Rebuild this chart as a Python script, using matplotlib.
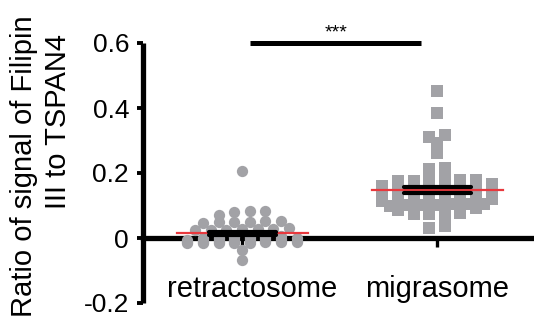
import numpy as np
import matplotlib
matplotlib.use("Agg")
import matplotlib.pyplot as plt
from matplotlib.transforms import ScaledTranslation

plt.rcParams["font.family"] = ["Liberation Sans", "DejaVu Sans"]

# values (ratio Filipin III / TSPAN4)
groups = ["retractosome", "migrasome"]

retractosome = [
    0.206,
    0.083, 0.082, 0.080, 0.072,
    0.052, 0.051, 0.050, 0.049, 0.048, 0.047,
    0.030, 0.029, 0.028, 0.027, 0.026, 0.025, 0.024,
    0.005, 0.004, 0.003, 0.002, 0.001, 0.000, -0.001,
    -0.002, -0.003, -0.004, -0.005, -0.005, -0.006, -0.007,
    -0.008, -0.009, -0.009, -0.010, -0.010, -0.011, -0.011, -0.012,
    -0.012, -0.013, -0.013, -0.014, -0.014, -0.015, -0.015, -0.016,
    -0.037, -0.068,
]

migrasome = [
    0.453, 0.386, 0.317, 0.312, 0.291, 0.262, 0.216, 0.211,
    0.180, 0.179, 0.178, 0.177, 0.176, 0.175,
    0.166, 0.165, 0.164, 0.163, 0.162, 0.161, 0.160, 0.159,
    0.151, 0.150, 0.149, 0.148, 0.147, 0.146, 0.145, 0.144,
    0.136, 0.135, 0.134, 0.133, 0.132, 0.131, 0.130, 0.129,
    0.121, 0.120, 0.119, 0.118, 0.117, 0.116, 0.115, 0.114,
    0.106, 0.105, 0.104, 0.103, 0.102, 0.101, 0.100,
    0.091, 0.090, 0.089, 0.088, 0.087, 0.086,
    0.076, 0.075, 0.074, 0.073,
    0.037, 0.030,
]

yticks = [-0.2, 0, 0.2, 0.4, 0.6]
ytick_labels = ["-0.2", "0", "0.2", "0.4", "0.6"]

GRAY = "#a2a2a6"
RED = "#e8383d"


def swarm(values, bin_h, cap, dx):
    # prism-like scatter: near-equal values share a row, spread sideways
    vals = np.sort(np.asarray(values, dtype=float))
    offs = np.zeros(len(vals))
    i = 0
    while i < len(vals):
        j = i + 1
        while j < len(vals) and j - i < cap and vals[j] - vals[i] < bin_h:
            j += 1
        k = j - i
        offs[i:j] = (np.arange(k) - (k - 1) / 2) * dx
        i = j
    return vals, offs


fig = plt.figure(figsize=(5.34, 3.22), dpi=100)
ax = fig.add_axes([143 / 534, 19 / 322, 391 / 534, 260 / 322])

for i, (vals, mk) in enumerate(zip([retractosome, migrasome], ["o", "s"])):
    y, off = swarm(vals, 0.012, 8, 0.08)
    ax.scatter(i + off, y, s=66, marker=mk, color=GRAY, linewidths=0,
               zorder=3, clip_on=False)
    mean = y.mean()
    sem = y.std(ddof=1) / np.sqrt(len(y))
    ax.plot([i - 0.336, i + 0.336], [mean, mean], color=RED, lw=1.6, zorder=4)
    for v in (mean - sem, mean + sem):
        ax.plot([i - 0.172, i + 0.172], [v, v], color="black", lw=3.0,
                solid_capstyle="round", zorder=5)

# significance bar
ax.plot([0.04, 0.92], [0.6, 0.6], color="black", lw=3.6, clip_on=False,
        solid_capstyle="butt")
ax.text(0.48, 0.606, "***", ha="center", va="bottom", fontsize=14)

ax.set_xlim(-0.508, 1.497)
ax.set_ylim(-0.2, 0.6)

for s in ("top", "right"):
    ax.spines[s].set_visible(False)
ax.spines["bottom"].set_position(("data", 0))
ax.spines["left"].set_bounds(-0.2, 0.6)
for s in ("bottom", "left"):
    ax.spines[s].set_linewidth(3.8)
ax.spines["left"].set_capstyle("butt")

ax.set_yticks(yticks, ytick_labels)
ax.set_xticks(range(len(groups)), groups)
ax.tick_params(axis="y", direction="out", length=4, width=2.8, pad=6,
               labelsize=19)
ax.tick_params(axis="x", direction="out", length=6.5, width=2.4, pad=20,
               labelsize=21)
# the first category label sits a little right of its column
lbl = ax.get_xticklabels()[0]
lbl.set_transform(lbl.get_transform()
                  + ScaledTranslation(0.1, 0, fig.dpi_scale_trans))

fig.text(24 / 534, 1 - 166 / 322, "Ratio of signal of Filipin", rotation=90,
         ha="center", va="center", fontsize=21)
fig.text(58 / 534, 1 - 122 / 322, "III to TSPAN4", rotation=90,
         ha="center", va="center", fontsize=21)

fig.savefig("out.png", dpi=100)
